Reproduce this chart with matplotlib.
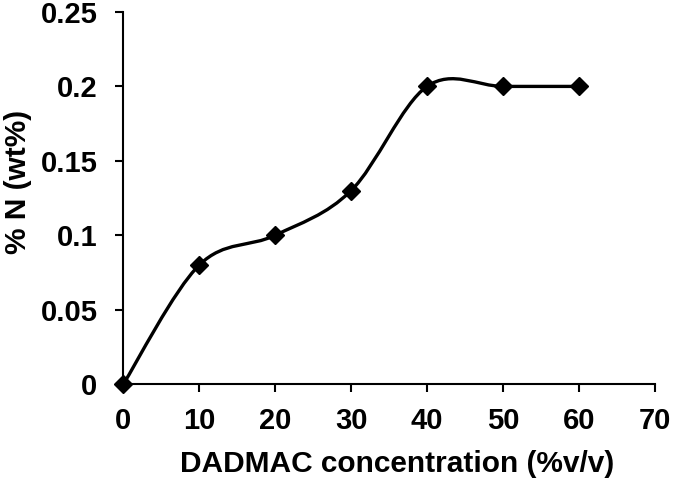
import matplotlib
matplotlib.use("Agg")
import matplotlib.pyplot as plt
from matplotlib.path import Path
from matplotlib.patches import PathPatch
import numpy as np

concentration = [0, 10, 20, 30, 40, 50, 60]
nitrogen = [0, 0.08, 0.10, 0.13, 0.20, 0.20, 0.20]
x_ticks = [0, 10, 20, 30, 40, 50, 60, 70]
y_ticks = [0, 0.05, 0.1, 0.15, 0.2, 0.25]
y_tick_labels = ["0", "0.05", "0.1", "0.15", "0.2", "0.25"]

plt.rcParams['font.family'] = ['Liberation Sans', 'DejaVu Sans']
plt.rcParams['font.weight'] = 'bold'

fig = plt.figure(figsize=(6.85, 4.79), dpi=100)
ax = fig.add_axes([0.18, 0.198, 0.776, 0.777])

# Smoothed line (Catmull-Rom style Bezier, as in spreadsheet smoothing)
pts = np.column_stack([concentration, nitrogen]).astype(float)
n = len(pts)
verts = [pts[0]]
codes = [Path.MOVETO]
for i in range(n - 1):
    p0 = pts[i - 1] if i > 0 else pts[i]
    p1 = pts[i]
    p2 = pts[i + 1]
    p3 = pts[i + 2] if i + 2 < n else pts[i + 1]
    c1 = p1 + (p2 - p0) / 6.0
    c2 = p2 - (p3 - p1) / 6.0
    verts += [c1, c2, p2]
    codes += [Path.CURVE4] * 3
ax.add_patch(PathPatch(Path(verts, codes), fill=False, edgecolor='black', lw=2.4))

ax.plot(concentration, nitrogen, linestyle='none', marker='D', markersize=9.5,
        color='black', zorder=3, clip_on=False)

ax.set_xlim(0, 70)
ax.set_ylim(0, 0.25)
ax.set_xticks(x_ticks)
ax.set_yticks(y_ticks)
ax.set_yticklabels(y_tick_labels)
for s in ['top', 'right']:
    ax.spines[s].set_visible(False)
for s in ['left', 'bottom']:
    ax.spines[s].set_linewidth(1.5)
ax.tick_params(axis='both', direction='out', length=5.5, width=1.5, labelsize=21)
ax.tick_params(axis='y', pad=13)
ax.tick_params(axis='x', pad=11)
for lab in ax.get_xticklabels() + ax.get_yticklabels():
    lab.set_fontweight('bold')
ax.set_xlabel('DADMAC concentration (%v/v)', fontsize=21.5, fontweight='bold')
ax.xaxis.set_label_coords(0.516, -0.177)
ax.set_ylabel('% N (wt%)', fontsize=21.5, fontweight='bold')
ax.yaxis.set_label_coords(-0.171, 0.543)

fig.savefig('out.png', dpi=100)
